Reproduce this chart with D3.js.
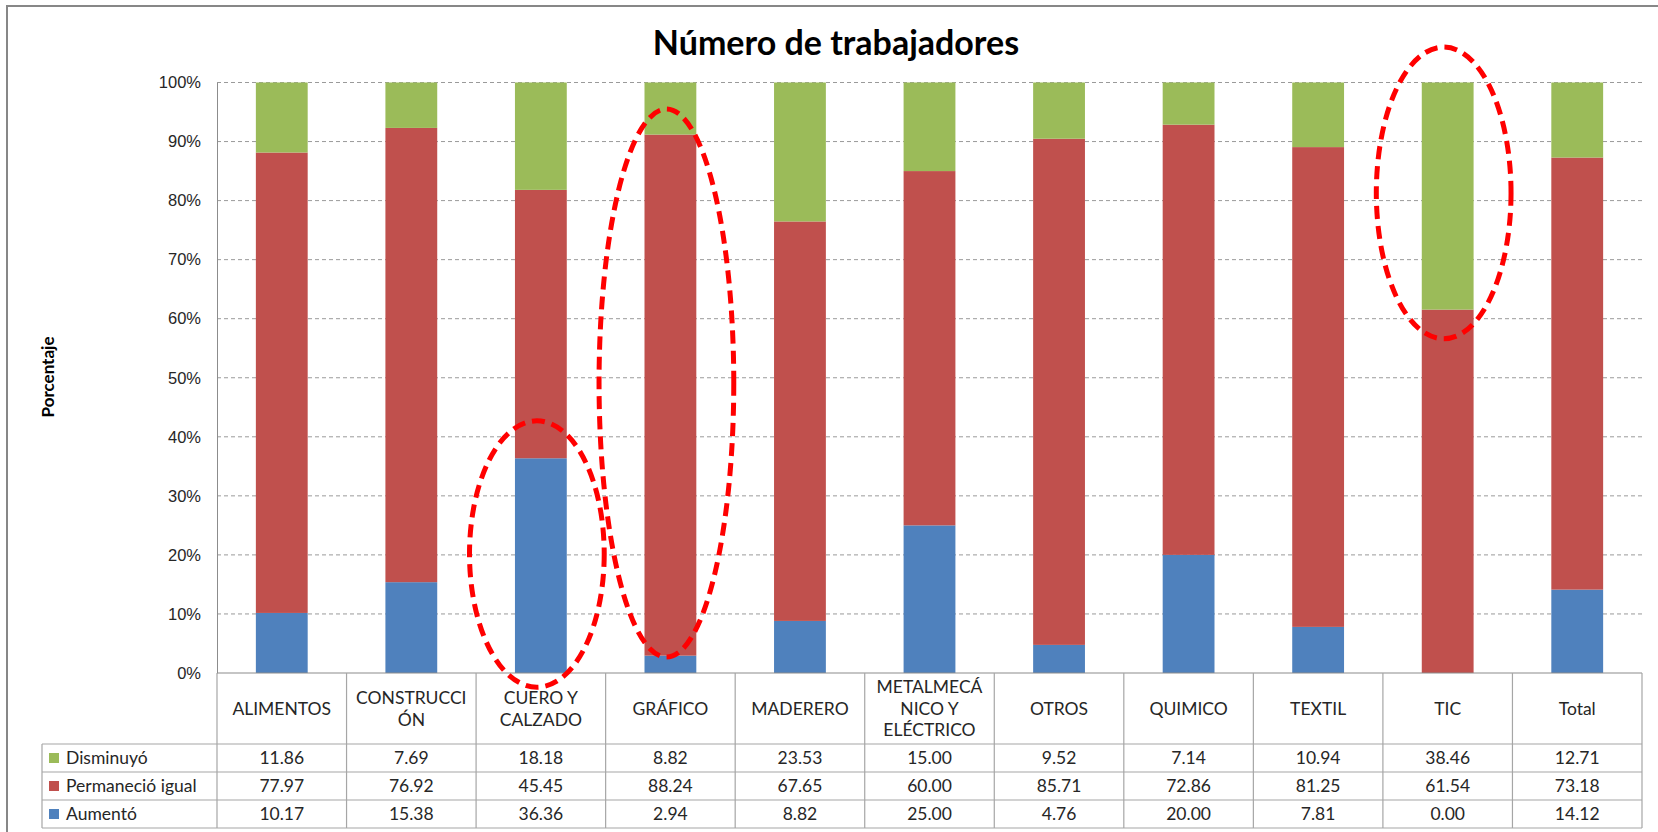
<!DOCTYPE html>
<html>
<head>
<meta charset="utf-8">
<script src="https://cdn.jsdelivr.net/npm/d3@7"></script>
<style>
  body { margin: 0; background: #fff; }
  svg { display: block; }
</style>
</head>
<body>
<svg id="chart"></svg>
<script>
let categories = ["ALIMENTOS", "CONSTRUCCIÓN", "CUERO Y CALZADO", "GRÁFICO", "MADERERO",
  "METALMECÁNICO Y ELÉCTRICO", "OTROS", "QUIMICO", "TEXTIL", "TIC", "Total"];
let categoryLines = [["ALIMENTOS"], ["CONSTRUCCI", "ÓN"], ["CUERO Y", "CALZADO"], ["GRÁFICO"],
  ["MADERERO"], ["METALMECÁ", "NICO Y", "ELÉCTRICO"], ["OTROS"], ["QUIMICO"], ["TEXTIL"], ["TIC"], ["Total"]];
let disminuyo = [11.86, 7.69, 18.18, 8.82, 23.53, 15.00, 9.52, 7.14, 10.94, 38.46, 12.71];
let permanecio = [77.97, 76.92, 45.45, 88.24, 67.65, 60.00, 85.71, 72.86, 81.25, 61.54, 73.18];
let aumento = [10.17, 15.38, 36.36, 2.94, 8.82, 25.00, 4.76, 20.00, 7.81, 0.00, 14.12];
let seriesNames = ["Disminuyó", "Permaneció igual", "Aumentó"];
let seriesColors = ["#9BBB59", "#C0504D", "#4F81BD"];
let yTicks = [0, 0.1, 0.2, 0.3, 0.4, 0.5, 0.6, 0.7, 0.8, 0.9, 1];
// red dashed highlights: category and vertical extent (share of 100%)
let highlights = [
  { cat: "CUERO Y CALZADO", lo: -0.024, hi: 0.427 },
  { cat: "GRÁFICO", lo: 0.027, hi: 0.955 },
  { cat: "TIC", lo: 0.566, hi: 1.06 }
];

let width = 1658;
let height = 832;

let plotLeft = 217;
let plotRight = 1642;
let plotTop = 82.5;
let plotBottom = 673;
let headerBottom = 744;
let rowHeight = 28;
let tableLeft = 42;

let svg = d3.select("#chart").attr("width", width).attr("height", height);

let font = "Lato, 'Open Sans', sans-serif";

// outer chart border (right / bottom run past the picture)
svg.append("path")
  .attr("d", "M7,840 L7,6 L1670,6")
  .attr("fill", "none")
  .attr("stroke", "#878787")
  .attr("stroke-width", 2);

let rows = categories.map((c, i) => ({
  cat: c,
  aumento: aumento[i],
  permanecio: permanecio[i],
  disminuyo: disminuyo[i]
}));

let xScale = d3.scaleBand()
  .domain(categories)
  .range([plotLeft, plotRight])
  .paddingInner(0.6)
  .paddingOuter(0.3);

let colScale = d3.scaleBand()
  .domain(categories)
  .range([plotLeft, plotRight]);

let yScale = d3.scaleLinear()
  .domain([0, 1])
  .range([plotBottom, plotTop]);

// gridlines
svg.append("g")
  .selectAll("line")
  .data(yTicks.filter(d => d > 0))
  .join("line")
  .attr("x1", plotLeft)
  .attr("x2", plotRight)
  .attr("y1", d => yScale(d))
  .attr("y2", d => yScale(d))
  .attr("stroke", "#9a9a9a")
  .attr("stroke-dasharray", "4 3");

// y axis
let yAxis = d3.axisLeft(yScale)
  .tickValues(yTicks)
  .tickFormat(d3.format(".0%"))
  .tickSize(0)
  .tickPadding(16);

let yG = svg.append("g")
  .attr("transform", "translate(" + plotLeft + ",0)")
  .call(yAxis);
yG.select(".domain").attr("stroke", "#8c8c8c");
yG.selectAll("text")
  .attr("font-family", "'Liberation Sans', Arial, sans-serif")
  .attr("font-size", 16.5)
  .attr("fill", "#262626");

// stacked bars
let stack = d3.stack()
  .keys(["aumento", "permanecio", "disminuyo"])
  .offset(d3.stackOffsetExpand);
let stacked = stack(rows);
let stackColors = { aumento: "#4F81BD", permanecio: "#C0504D", disminuyo: "#9BBB59" };

svg.append("g")
  .selectAll("g")
  .data(stacked)
  .join("g")
  .attr("fill", d => stackColors[d.key])
  .selectAll("rect")
  .data(d => d)
  .join("rect")
  .attr("x", d => xScale(d.data.cat))
  .attr("width", xScale.bandwidth())
  .attr("y", d => yScale(d[1]))
  .attr("height", d => yScale(d[0]) - yScale(d[1]));

// data table
let table = svg.append("g")
  .attr("stroke", "#a6a6a6")
  .attr("stroke-width", 1.2);
let tableBottom = headerBottom + rowHeight * 3;

table.append("line")
  .attr("x1", plotLeft).attr("x2", plotRight)
  .attr("y1", plotBottom).attr("y2", plotBottom)
  .attr("stroke", "#8c8c8c");

for (let r = 0; r <= 3; r++) {
  let y = headerBottom + r * rowHeight;
  table.append("line")
    .attr("x1", tableLeft).attr("x2", plotRight)
    .attr("y1", y).attr("y2", y);
}
table.append("line")
  .attr("x1", tableLeft).attr("x2", tableLeft)
  .attr("y1", headerBottom).attr("y2", tableBottom);

table.selectAll(".col")
  .data(categories.concat(["end"]))
  .join("line")
  .attr("class", "col")
  .attr("x1", (d, i) => plotLeft + i * colScale.step())
  .attr("x2", (d, i) => plotLeft + i * colScale.step())
  .attr("y1", plotBottom)
  .attr("y2", tableBottom);

// header labels
let headerMid = (plotBottom + headerBottom) / 2;
let lineGap = 21.5;
svg.append("g")
  .selectAll("text")
  .data(categories)
  .join("text")
  .attr("font-family", font)
  .attr("font-size", 17.5)
  .attr("fill", "#262626")
  .attr("text-anchor", "middle")
  .each(function (d, i) {
    let lines = categoryLines[i];
    let x = colScale(d) + colScale.bandwidth() / 2;
    let y0 = headerMid - (lines.length - 1) * lineGap / 2;
    d3.select(this).selectAll("tspan")
      .data(lines)
      .join("tspan")
      .attr("x", x)
      .attr("y", (l, k) => y0 + k * lineGap)
      .attr("dy", "0.36em")
      .text(l => l);
  });

// table rows: legend key + values
let seriesValues = [disminuyo, permanecio, aumento];
let fmt = d3.format(".2f");
seriesNames.forEach((name, r) => {
  let yMid = headerBottom + r * rowHeight + rowHeight / 2;
  svg.append("rect")
    .attr("x", tableLeft + 7)
    .attr("y", yMid - 5)
    .attr("width", 10)
    .attr("height", 10)
    .attr("fill", seriesColors[r]);
  svg.append("text")
    .attr("x", tableLeft + 24)
    .attr("y", yMid)
    .attr("dy", "0.36em")
    .attr("font-family", font)
    .attr("font-size", 17.5)
    .attr("fill", "#262626")
    .text(name);
  svg.append("g")
    .selectAll("text")
    .data(seriesValues[r])
    .join("text")
    .attr("x", (d, i) => colScale(categories[i]) + colScale.bandwidth() / 2)
    .attr("y", yMid)
    .attr("dy", "0.36em")
    .attr("text-anchor", "middle")
    .attr("font-family", font)
    .attr("font-size", 17.5)
    .attr("fill", "#262626")
    .text(d => fmt(d));
});

// title
svg.append("text")
  .attr("x", 836)
  .attr("y", 55)
  .attr("text-anchor", "middle")
  .attr("font-family", font)
  .attr("font-weight", "bold")
  .attr("font-size", 34)
  .attr("fill", "#000")
  .text("Número de trabajadores");

// y axis title
svg.append("text")
  .attr("transform", "translate(54,377) rotate(-90)")
  .attr("text-anchor", "middle")
  .attr("font-family", font)
  .attr("font-weight", "bold")
  .attr("font-size", 17)
  .attr("fill", "#000")
  .text("Porcentaje");

// red dashed ellipses
svg.append("g")
  .selectAll("ellipse")
  .data(highlights)
  .join("ellipse")
  .attr("cx", d => xScale(d.cat) + xScale.bandwidth() / 2 - 4)
  .attr("cy", d => (yScale(d.lo) + yScale(d.hi)) / 2)
  .attr("rx", xScale.step() * 0.52)
  .attr("ry", d => (yScale(d.lo) - yScale(d.hi)) / 2)
  .attr("fill", "none")
  .attr("stroke", "#ff0000")
  .attr("stroke-width", 5)
  .attr("stroke-dasharray", "13 7");
</script>
</body>
</html>
